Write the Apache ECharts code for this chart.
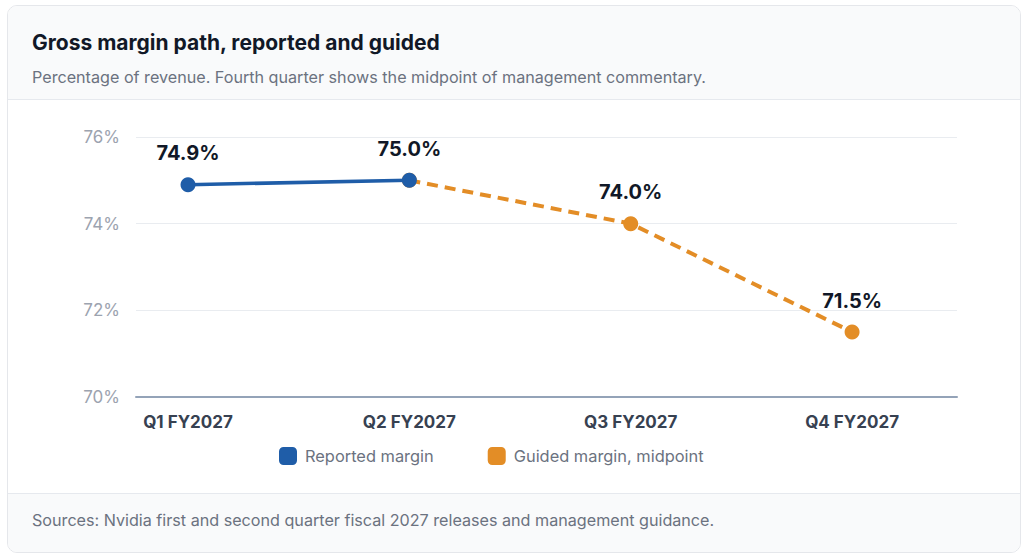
<!DOCTYPE html>
<html>
<head>
<meta charset="utf-8">
<script src="https://cdn.jsdelivr.net/npm/echarts@6/dist/echarts.min.js"></script>
<style>
  html, body { margin: 0; padding: 0; background: #ffffff; font-family: Inter, "Noto Sans", sans-serif; }
  .card {
    position: absolute; left: 7px; top: 5px; width: 1012px; height: 546px;
    border: 1px solid #e5e7eb; border-radius: 10px; overflow: hidden; background: #fff;
  }
  .head { height: 93px; background: #f9fafb; border-bottom: 1px solid #e6e9ee; position: relative; }
  .head h1 { position: absolute; left: 24px; top: 24px; margin: 0; font-size: 21px; font-weight: 700; color: #111827; }
  .head p { position: absolute; left: 24px; top: 61px; margin: 0; font-size: 16.15px; color: #6b7280; }
  #chart { width: 1012px; height: 393px; }
  .foot { height: 59px; background: #f9fafb; border-top: 1px solid #e6e9ee; position: relative; }
  .foot p { position: absolute; left: 24px; top: 16px; margin: 0; font-size: 16.15px; color: #6b7280; }
</style>
</head>
<body>
<div class="card">
  <div class="head">
    <h1>Gross margin path, reported and guided</h1>
    <p>Percentage of revenue. Fourth quarter shows the midpoint of management commentary.</p>
  </div>
  <div id="chart"></div>
  <div class="foot">
    <p>Sources: Nvidia first and second quarter fiscal 2027 releases and management guidance.</p>
  </div>
</div>
<script>
(function() {
  'use strict';

  // ----- Data -----
  var quarters = ['Q1 FY2027', 'Q2 FY2027', 'Q3 FY2027', 'Q4 FY2027'];
  var reported = [74.9, 75.0, null, null];
  var guided = [null, 75.0, 74.0, 71.5];
  var yTicks = [70, 72, 74, 76];

  var blue = '#1f5da8';
  var orange = '#e38d26';
  var ink = '#111827';

  function pairs(arr) {
    return arr.map(function(v, i) { return [i, v]; });
  }

  var chart = echarts.init(document.getElementById('chart'), null, { renderer: 'svg' });
  chart.setOption({
    animation: false,
    textStyle: { fontFamily: 'Inter, "Noto Sans", sans-serif' },
    grid: { left: 128, right: 63, top: 37, bottom: 96, containLabel: false },
    legend: {
      left: 266, top: 342,
      itemWidth: 18, itemHeight: 18, itemGap: 54,
      icon: 'roundRect',
      textStyle: { color: '#6b7280', fontSize: 16.4, padding: [0, 0, 0, 3] },
      data: [
        { name: 'Reported margin', itemStyle: { color: blue } },
        { name: 'Guided margin, midpoint', itemStyle: { color: orange } }
      ]
    },
    xAxis: {
      type: 'value',
      min: -0.235, max: 3.474,
      axisLine: { show: true, lineStyle: { color: '#94a3b8', width: 2 } },
      axisTick: { show: false },
      splitLine: { show: false },
      axisLabel: {
        customValues: [0, 1, 2, 3],
        color: '#374151', fontSize: 17, fontWeight: 'bold', margin: 16,
        formatter: function(v) { return quarters[Math.round(v)]; }
      }
    },
    yAxis: {
      type: 'value',
      min: yTicks[0], max: yTicks[yTicks.length - 1], interval: 2,
      axisLine: { show: false },
      axisTick: { show: false },
      splitLine: { lineStyle: { color: '#e9ecf0', width: 1 } },
      axisLabel: { color: '#9ca3af', fontSize: 17, margin: 16, formatter: '{value}%' }
    },
    series: [{
      name: 'Reported margin',
      type: 'line',
      data: pairs(reported),
      symbol: 'circle', symbolSize: 15,
      itemStyle: { color: blue },
      lineStyle: { color: blue, width: 3.5 },
      label: {
        show: true, position: 'top', distance: 14,
        color: ink, fontSize: 20, fontWeight: 'bold',
        formatter: function(p) { return p.value[1].toFixed(1) + '%'; }
      },
      z: 3
    }, {
      name: 'Guided margin, midpoint',
      type: 'line',
      data: pairs(guided),
      symbol: 'circle', symbolSize: 15,
      itemStyle: { color: orange },
      lineStyle: { color: orange, width: 4, type: [11, 7] },
      label: {
        show: true, position: 'top', distance: 14,
        color: ink, fontSize: 20, fontWeight: 'bold',
        formatter: function(p) { return p.dataIndex === 1 ? '' : p.value[1].toFixed(1) + '%'; }
      },
      z: 2
    }]
  });
})();
</script>
</body>
</html>
